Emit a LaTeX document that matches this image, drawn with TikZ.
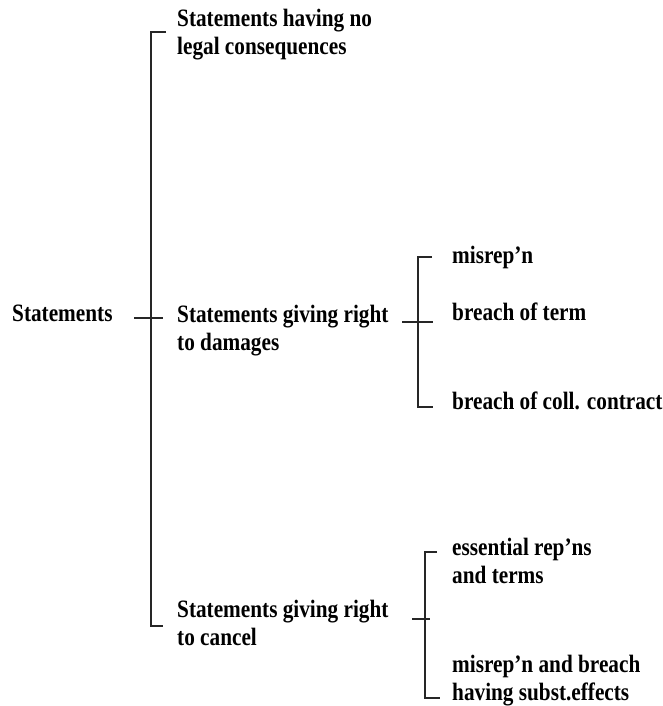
\documentclass[tikz,border=0pt]{standalone}
\usepackage{fontspec}
\setmainfont{Liberation Serif}[FakeStretch=0.85]
\begin{document}
\begin{tikzpicture}[x=1pt,y=-1pt,
  lbl/.style={anchor=base west, inner sep=0pt, align=left,
    font=\fontsize{25}{28}\selectfont\bfseries},
  brk/.style={draw=black!85, line width=1.3pt}]
\useasboundingbox (0,0) rectangle (662,706);
% texts (multi-line nodes: base = last line)
\node[lbl] (st) at (12,321) {Statements};
\node[lbl] (a) at (177,55) {Statements having no\\legal consequences};
\node[lbl] (b) at (177,350) {Statements giving right\\to damages};
\node[lbl] (c) at (177,645) {Statements giving right\\to cancel};
\node[lbl] (b1) at (452,263) {misrep’n};
\node[lbl] (b2) at (452,320) {breach of term};
\node[lbl] (b3) at (452,409) {breach of coll. contract};
\node[lbl] (c1) at (452,583) {essential rep’ns\\and terms};
\node[lbl] (c2) at (452,700) {misrep’n and breach\\having subst.effects};
% main bracket
\coordinate (m0) at (134,318);
\coordinate (m1) at (163,318);
\coordinate (mt) at (166,32);
\coordinate (mb) at (163,626);
\draw[brk] (mt) -- (151,32) -- (151,626) -- (mb);
\draw[brk] (m0) -- (m1);
% damages bracket
\coordinate (d0) at (402,322);
\coordinate (d1) at (433,322);
\coordinate (dt) at (432,257);
\coordinate (db) at (433,407);
\draw[brk] (dt) -- (418,257) -- (418,407) -- (db);
\draw[brk] (d0) -- (d1);
% cancel bracket
\coordinate (c0) at (412,619);
\coordinate (c1e) at (430,619);
\coordinate (ct) at (437,552);
\coordinate (cb) at (440,698);
\draw[brk] (ct) -- (425,552) -- (425,698) -- (cb);
\draw[brk] (c0) -- (c1e);
\end{tikzpicture}
\end{document}
